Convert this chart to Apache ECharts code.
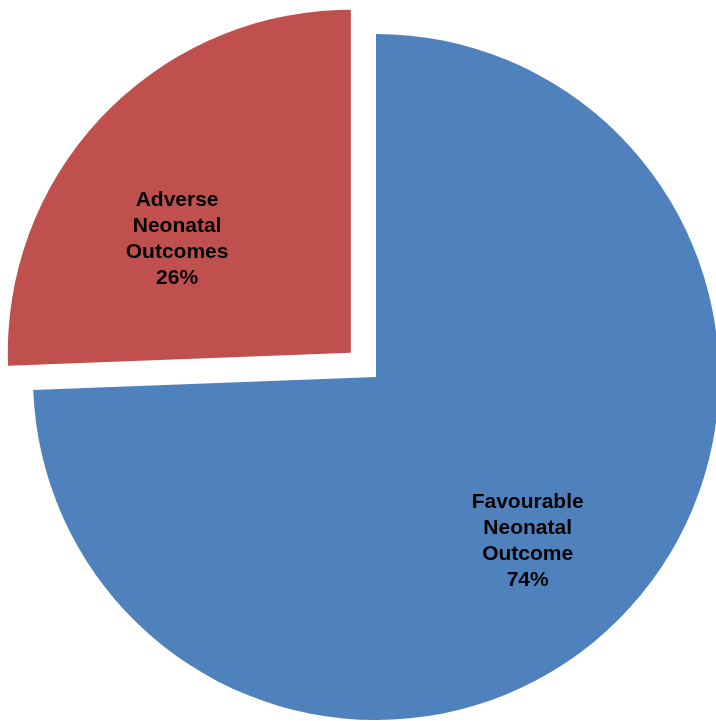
<!DOCTYPE html>
<html>
<head>
<meta charset="utf-8">
<script src="https://cdn.jsdelivr.net/npm/echarts@6/dist/echarts.min.js"></script>
<style>
html,body{margin:0;padding:0;background:#fff;}
#chart{width:716px;height:721px;}
</style>
</head>
<body>
<div id="chart"></div>
<script>
const categories = ["Favourable\nNeonatal\nOutcome", "Adverse\nNeonatal\nOutcomes"];
const values = [74.4, 25.6];
const colors = ["#4F81BD", "#C0504D"];
const exploded = [false, true];
const labelShift = [[26, 43], [-48, 8]];

const chart = echarts.init(document.getElementById('chart'), null, {renderer: 'canvas'});
chart.setOption({
  animation: false,
  backgroundColor: '#ffffff',
  series: [{
    type: 'pie',
    center: [376, 377],
    radius: 343,
    startAngle: 90,
    clockwise: true,
    percentPrecision: 0,
    selectedMode: 'multiple',
    selectedOffset: 35,
    avoidLabelOverlap: false,
    silent: true,
    label: {
      show: true,
      position: 'inside',
      formatter: '{b}\n{d}%',
      color: '#000000',
      fontFamily: 'Liberation Sans, Arial, sans-serif',
      fontSize: 21,
      fontWeight: 'bold',
      lineHeight: 26,
      align: 'center'
    },
    labelLine: {show: false},
    labelLayout: function (p) {
      const s = labelShift[p.dataIndex];
      return {dx: s[0], dy: s[1]};
    },
    itemStyle: {borderWidth: 0},
    emphasis: {disabled: true},
    data: categories.map((c, i) => ({
      name: c,
      value: values[i],
      selected: exploded[i],
      itemStyle: {color: colors[i]}
    }))
  }]
});
</script>
</body>
</html>
